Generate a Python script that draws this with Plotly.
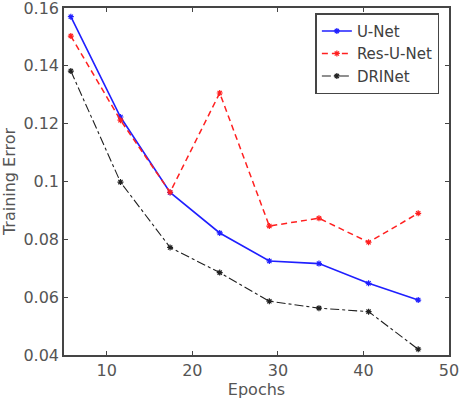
import plotly.graph_objects as go

epochs = [5.8, 11.6, 17.4, 23.2, 29.0, 34.8, 40.6, 46.4]
unet = [0.157, 0.1223, 0.0962, 0.0822, 0.0725, 0.0716, 0.0648, 0.0590]
resunet = [0.1503, 0.1212, 0.0963, 0.1306, 0.0846, 0.0873, 0.0790, 0.0890]
drinet = [0.1382, 0.0998, 0.0772, 0.0685, 0.0586, 0.0562, 0.0550, 0.0420]

fig = go.Figure()
fig.add_trace(go.Scatter(x=epochs, y=unet, name="U-Net", mode="lines+markers",
                         line=dict(color="#1f1fff", width=1.6),
                         marker=dict(symbol="asterisk-open", size=5,
                                     line=dict(color="#1f1fff", width=1.2))))
fig.add_trace(go.Scatter(x=epochs, y=resunet, name="Res-U-Net", mode="lines+markers",
                         line=dict(color="#ff2020", width=1.5, dash="6px,4px"),
                         marker=dict(symbol="asterisk-open", size=5,
                                     line=dict(color="#ff2020", width=1.2))))
fig.add_trace(go.Scatter(x=epochs, y=drinet, name="DRINet", mode="lines+markers",
                         line=dict(color="#202020", width=1.1, dash="dashdot"),
                         marker=dict(symbol="asterisk-open", size=5,
                                     line=dict(color="#202020", width=1.2))))

axcol = "#454545"
fig.update_layout(
    width=462, height=399,
    margin=dict(l=64, r=13, t=8, b=44),
    paper_bgcolor="white", plot_bgcolor="white",
    font=dict(family="DejaVu Sans", size=16, color="#555555"),
    showlegend=True,
    legend=dict(x=0.975, y=0.985, xanchor="right", yanchor="top",
                bordercolor=axcol, borderwidth=1.5, bgcolor="white",
                font=dict(size=15, color="#404040"),
                tracegroupgap=0, itemwidth=30),
)
fig.update_xaxes(range=[5, 50], tickvals=[10, 20, 30, 40, 50],
                 showgrid=False, zeroline=False, showline=True, linecolor=axcol,
                 linewidth=1.6, mirror="ticks", ticks="inside", ticklen=4, tickcolor=axcol,
                 tickfont=dict(size=16), automargin=False, ticklabeloverflow="allow",
                 title=dict(text="Epochs", standoff=8, font=dict(size=16)))
fig.update_yaxes(range=[0.04, 0.16], tickvals=[0.04, 0.06, 0.08, 0.1, 0.12, 0.14, 0.16],
                 ticktext=["0.04", "0.06", "0.08", "0.1", "0.12", "0.14", "0.16"],
                 showgrid=False, zeroline=False, showline=True, linecolor=axcol,
                 linewidth=1.6, mirror="ticks", ticks="inside", ticklen=4, tickcolor=axcol,
                 tickfont=dict(size=16), automargin=False, ticklabeloverflow="allow",
                 title=dict(text="Training Error", standoff=6, font=dict(size=16)))

fig.write_html("out.html")
